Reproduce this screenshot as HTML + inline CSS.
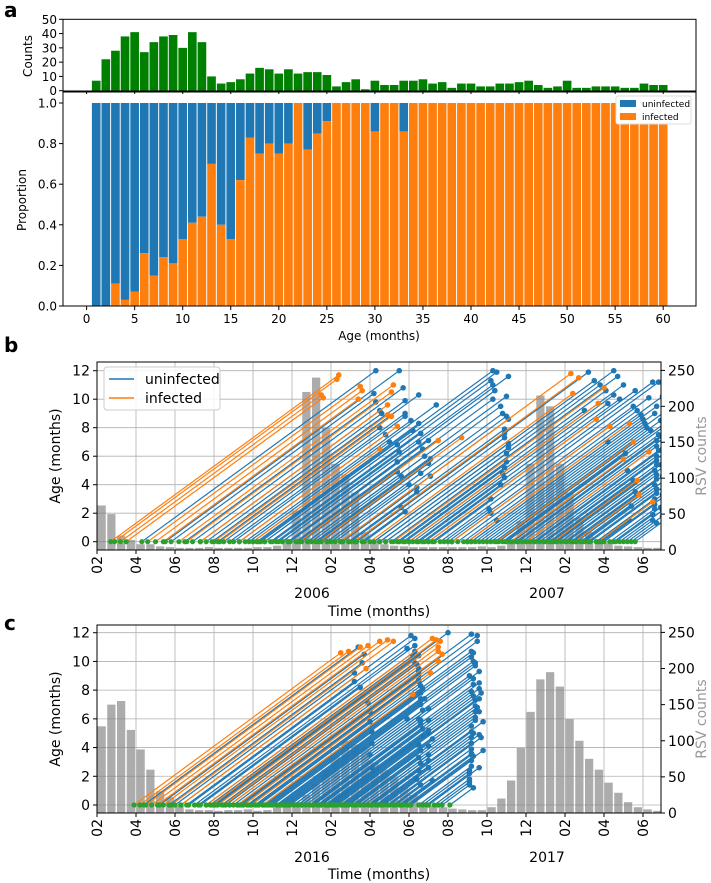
<!DOCTYPE html>
<html><head><meta charset="utf-8"><style>
html,body{margin:0;padding:0;background:#fff;}
svg{display:block;font-family:"DejaVu Sans","Liberation Sans",sans-serif;}
</style></head><body>
<svg id="fig" width="711" height="883" viewBox="0 0 711 883" xmlns="http://www.w3.org/2000/svg"></svg>
<script>
// ---------- Panel a data ----------
const ageMonths = [1,2,3,4,5,6,7,8,9,10,11,12,13,14,15,16,17,18,19,20,21,22,23,24,25,26,27,28,29,30,31,32,33,34,35,36,37,38,39,40,41,42,43,44,45,46,47,48,49,50,51,52,53,54,55,56,57,58,59,60];
const ageCounts = [7,22,28,38,41,27,34,38,39,30,41,34,10,5,6,8,12,16,15,12,15,12,13,13,11,3,6,8,1,7,4,4,7,7,8,5,6,2,5,5,3,3,5,5,6,7,4,2,3,7,2,2,3,3,3,2,2,5,4,4];
const infectedProp = [0,0,0.11,0.03,0.07,0.26,0.15,0.24,0.21,0.33,0.41,0.44,0.70,0.40,0.33,0.62,0.83,0.75,0.80,0.75,0.80,1,0.77,0.85,0.91,1,1,1,1,0.86,1,1,0.86,1,1,1,1,1,1,1,1,1,1,1,1,1,1,1,1,1,1,1,1,1,1,1,1,1,1,1];
const ageTicks = [0,5,10,15,20,25,30,35,40,45,50,55,60];
const countTicks = [0,10,20,30,40,50];
const propTicks = [0,0.2,0.4,0.6,0.8,1.0];
// ---------- Panel b/c shared ----------
const monthTickPos = [0,2,4,6,8,10,12,14,16,18,20,22,24,26,28];
const monthTickLabels = ["02","04","06","08","10","12","02","04","06","08","10","12","02","04","06"];
const ageYTicks = [0,2,4,6,8,10,12];
const rsvTicks = [0,50,100,150,200,250];
// RSV counts per half-month starting at Feb
const rsvB = [62,50,20,14,8,8,5,4,3,3,3,4,3,3,3,3,4,4,6,15,55,220,240,170,120,105,80,25,12,8,6,5,4,4,4,4,4,4,4,5,4,6,10,40,120,215,200,120,80,45,25,15,10,6,5,4,3,3];
const rsvC = [120,150,155,115,88,60,30,22,10,5,4,4,3,4,4,5,3,4,8,10,15,25,40,60,80,100,95,90,70,60,50,35,25,15,10,8,6,5,4,4,8,20,45,90,140,185,195,175,130,100,75,60,42,28,15,8,5,3];
// Panel b subjects: birth time (months since Feb 2005), final age, infected flag
const birthBMain = [2.3,3.5,3.8,4.5,5.3,5.6,6.5,7.3,8,8.6,9.2,9.8,10.5,11,11.3,12,12.6,13.2,13.7,7.8,6.8,8.4,9.5,10.2,11.5,12.5,
8.3,8.6,8.9,9.3,9.8,10.3,11.2,11.8,12.5,13,13.6,14.2,14.8,15.4,16,16.7,17.2,17.8,18.2,19,
13.3,14.2,14.8,15.5,16.2,16.8,17.3,17.6,18,18.5,19,19.4,19.8,20.2,20.6,21,21.3,21.6,22,22.4,22.7,23,23.3,23.6,24,24.3,24.6,25,25.3,25.6,26,26.3,26.6,27,27.4,18.8,19.6,20.4,21.5,22.5,23.5,24.4,25.2,25.9,26.8,27.6,15.8,16.5,
0.7,0.9,1.2,1.5,2.6,3.0,3.4,4.2,4.6,5.3,6,6.3,7.3,8,10.4,11.4,12.5,13.2,14,15.2,16,17,18.2,19,20.5,21.2,22,23.4,24.5,25.7];
const ageEndBMain = [12,12,10.4,9.8,9.2,9.0,8.0,7.5,7,6.8,6.3,5.6,4.9,4.6,5.8,4.0,3.8,2.4,2.1,9.6,9.0,7.8,7.0,6.5,5.5,4.6,
12,11.9,11.3,11.0,10.6,10.0,9.5,9.0,8.6,7.9,7.3,6.9,6.2,5.6,4.8,4.0,3.0,2.3,2.0,1.5,
11.9,11.3,11.0,10.6,10.3,10.0,11.2,11.2,9.5,9.2,8.9,8.6,8.3,8.0,7.8,8.3,7.5,7.1,6.7,6.4,6.0,5.7,5.4,5.0,4.7,4.4,4.0,3.7,3.4,3.0,2.6,2.3,1.9,1.5,1.3,10.2,9.0,8.5,7.4,6.5,5.4,4.6,3.9,3.2,2.2,1.5,9.2,9.7,
11.7,11.4,10.3,10.1,10.9,10.6,10.0,11.0,10.5,9.6,8.9,8.8,8.1,6.5,7.1,7.3,11.8,11.5,10.4,10.8,9.7,8.6,8.1,8.3,7.0,5.8,6.3,4.3,3.3,2.8];
const infBMain = [0,0,0,0,0,0,0,0,0,0,0,0,0,0,0,0,0,0,0,0,0,0,0,0,0,0,
0,0,0,0,0,0,0,0,0,0,0,0,0,0,0,0,0,0,0,0,
0,0,0,0,0,0,0,0,0,0,0,0,0,0,0,0,0,0,0,0,0,0,0,0,0,0,0,0,0,0,0,0,0,0,0,0,0,0,0,0,0,0,0,0,0,0,0,0,
1,1,1,1,1,1,1,1,1,1,1,1,1,1,1,1,1,1,1,1,1,1,1,1,1,1,1,1,1,1];
const birthBExtra = [4.9,5.9,6.2,7,7.6,8.2,9,9.9,10.8,11.8,12.9,14.5,15.1,16,17,18.2,19.2,20,20.8,21.8,22.9,23.8,24.8,25.7,26.5,27.2,19.2,20.9,22.2,23.2,24.1,24.9,25.8,9.5,10.8,12.2,13.3,14.5,15.7,16.4];
const ageEndBExtra = [10.8,9.9,10.3,8.8,8.5,8.3,7.6,7.1,6.0,4.8,3.5,12,11.6,11,10.6,10.1,9.5,9.2,8.3,7.8,6.8,5.3,4.4,3.3,2.4,1.8,7.0,6.2,5.0,4.3,3.5,2.5,1.5,11.6,10.2,8.8,7.6,6.6,5.2,4.5];
const infBExtra = [0,0,0,0,0,0,0,0,0,0,0,0,0,0,0,0,0,0,0,0,0,0,0,0,0,0,0,0,0,0,0,0,0,0,0,0,0,0,0,0];
const birthB = birthBExtra.concat(birthBMain);
const ageEndB = ageEndBExtra.concat(ageEndBMain);
const infB = infBExtra.concat(infBMain);
// Panel c subjects: birth time (months since Feb 2015)
const birthCMain = [2.4,3.2,3.7,4.0,4.6,5.3,6.0,6.8,7.5,8.2,9,9.8,10.5,11.5,
4.3,4.7,5.2,5.6,6.1,6.6,7.0,7.4,7.9,8.3,8.8,9.2,9.6,10.1,10.5,11,11.4,11.9,12.3,12.8,13.2,13.7,14.1,14.6,15.2,15.5,9.9,10.7,11.8,12.6,13.5,14.4,
7.3,7.7,8.1,8.5,8.9,9.3,9.7,10.1,10.5,10.9,11.3,11.7,12.1,12.5,12.9,13.3,13.7,14.1,14.5,14.9,15.3,15.7,16.1,16.5,16.9,17.3,17.7,18.1,11.5,12.2,13.1,14,15,16,17,14.3,15.6,
1.9,2.2,2.5,2.8,3.1,3.4,3.8,4.3,5.6,5.9,6.2,6.5,6.8,7.2,7.5,7.9,8.5];
const ageEndCMain = [11.0,10.5,9.9,9.2,8.6,8.2,7.6,7.1,6.5,5.8,5.1,4.3,3.5,2.6,
11.8,11.6,11.1,10.7,10.4,9.8,9.5,9.1,8.6,8.3,7.8,7.4,7.0,6.6,6.0,5.6,5.3,4.8,4.2,3.8,3.3,2.9,2.4,1.8,1.4,1.7,6.0,5.9,5.2,4.6,3.5,2.6,
11.9,11.8,11.4,10.7,10.3,10.0,9.7,9.0,8.8,8.4,7.9,7.6,7.3,6.9,6.5,6.1,5.5,5.1,4.7,4.3,3.9,3.5,3.1,2.7,2.2,1.8,1.4,1.2,8.1,7.4,6.5,5.8,4.7,3.8,2.6,5.0,3.6,
10.6,10.7,11.0,11.1,11.4,11.5,11.4,9.5,11.6,11.5,11.4,11.0,10.7,10.5,10.0,9.2,7.7];
const infCMain = [0,0,0,0,0,0,0,0,0,0,0,0,0,0,
0,0,0,0,0,0,0,0,0,0,0,0,0,0,0,0,0,0,0,0,0,0,0,0,0,0,0,0,0,0,0,0,
0,0,0,0,0,0,0,0,0,0,0,0,0,0,0,0,0,0,0,0,0,0,0,0,0,0,0,0,0,0,0,0,0,0,0,0,0,
1,1,1,1,1,1,1,1,1,1,1,1,1,1,1,1,1];
const birthCExtra = [5.0,5.8,6.4,7.2,7.8,8.6,9.4,10.3,11.1,12.0,12.9,13.9,6.0,8.7,9.5,10.3,11.1,11.9,12.7,13.5,14.7,15.9,16.7,17.5];
const ageEndCExtra = [10.9,10.4,9.9,9.3,8.7,8.1,7.4,6.7,5.9,5.0,4.1,3.1,12.0,10.6,9.9,9.3,8.5,7.8,6.8,5.9,4.9,3.4,2.4,1.6];
const infCExtra = [0,0,0,0,0,0,0,0,0,0,0,0,0,0,0,0,0,0,0,0,0,0,0,0];
const birthC = birthCExtra.concat(birthCMain);
const ageEndC = ageEndCExtra.concat(ageEndCMain);
const infC = infCExtra.concat(infCMain);

const NS="http://www.w3.org/2000/svg";
const svg=document.getElementById('fig');
function el(tag,attrs,parent,text){const e=document.createElementNS(NS,tag);for(const k in attrs)e.setAttribute(k,attrs[k]);if(text!==undefined)e.textContent=text;(parent||svg).appendChild(e);return e;}
const BLUE="#1f77b4",ORANGE="#ff7f0e",GREEN="#2ca02c";

[["a",4,17],["b",4,352],["c",4,630]].forEach(p=>{
  const t=el('text',{x:p[1],y:p[2],'font-size':20,'font-weight':'bold',fill:'#000'},svg,p[0]);
  
  
});

// ---------- Panel a ----------
const AL=63,AR=696;
const xA=m=>86.6+m*9.61;
const yCnt=c=>90.7-c*(71.4/50);
const yP=p=>306-p*203;
const gA=el('g',{});


ageMonths.forEach((m,i)=>{
  const r=el('rect',{x:xA(m-0.45),y:yCnt(ageCounts[i]),width:9.61*0.9,height:yCnt(0)-yCnt(ageCounts[i]),fill:'#008000'},gA);
  
  
});
ageMonths.forEach((m,i)=>{
  const p=infectedProp[i];
  const b=el('rect',{x:xA(m-0.45),y:yP(1),width:9.61*0.9,height:yP(p)-yP(1),fill:BLUE},gA);
  
  
  if(p>0){const o=el('rect',{x:xA(m-0.45),y:yP(p),width:9.61*0.9,height:yP(0)-yP(p),fill:ORANGE},gA);
  
  }
});
el('rect',{x:AL,y:19.3,width:AR-AL,height:91-19.3,fill:'none',stroke:'#000','stroke-width':1},gA);
el('rect',{x:AL,y:92,width:AR-AL,height:306-92,fill:'none',stroke:'#000','stroke-width':1},gA);
countTicks.forEach(c=>{
  el('line',{x1:AL-4,x2:AL,y1:yCnt(c),y2:yCnt(c),stroke:'#000'},gA);
  el('text',{x:AL-6,y:yCnt(c)+4.5,'text-anchor':'end','font-size':12},gA,String(c));
});
propTicks.forEach(p=>{
  el('line',{x1:AL-4,x2:AL,y1:yP(p),y2:yP(p),stroke:'#000'},gA);
  el('text',{x:AL-6,y:yP(p)+4.5,'text-anchor':'end','font-size':12},gA,p.toFixed(1));
});
ageTicks.forEach(m=>{
  el('line',{x1:xA(m),x2:xA(m),y1:306,y2:310,stroke:'#000'},gA);
  el('line',{x1:xA(m),x2:xA(m),y1:91,y2:94,stroke:'#000'},gA);
  el('text',{x:xA(m),y:323,'text-anchor':'middle','font-size':12},gA,String(m));
});
const cl=el('text',{x:0,y:0,transform:'translate(32,56) rotate(-90)','text-anchor':'middle','font-size':12},gA,'Counts');

const pl=el('text',{x:0,y:0,transform:'translate(26,200) rotate(-90)','text-anchor':'middle','font-size':12},gA,'Proportion');

const xl=el('text',{x:379,y:340,'text-anchor':'middle','font-size':12},gA,'Age (months)');

const lgA=el('g',{},gA);


el('rect',{x:616,y:96,width:75,height:28,fill:'#fff',stroke:'#ddd',rx:2},lgA);
el('rect',{x:620,y:100,width:16,height:7,fill:BLUE},lgA);
el('text',{x:642,y:107,'font-size':9},lgA,'uninfected');
el('rect',{x:620,y:113,width:16,height:7,fill:ORANGE},lgA);
el('text',{x:642,y:120,'font-size':9},lgA,'infected');

// ---------- Panels b and c ----------
function panel(name,top,bottom,y12,y0,births,ages,inf,rsv,yearLabels,ylabelY,xTitleY){
  const L=97,R=661;
  const xT=t=>97+t*19.5;
  const ppm=(y0-y12)/12;
  const yA=a=>y0-a*ppm;
  const yR=r=>bottom-r*((bottom-y12+0.3)/250);
  const g=el('g',{});
  
  
  const cid='clip-'+name;
  const defs=el('defs',{},g);
  const cp=el('clipPath',{id:cid},defs);
  el('rect',{x:L,y:top,width:R-L,height:bottom-top},cp);
  monthTickPos.forEach(t=>el('line',{x1:xT(t),x2:xT(t),y1:top,y2:bottom,stroke:'#b0b0b0','stroke-width':0.8},g));
  ageYTicks.forEach(a=>el('line',{x1:L,x2:R,y1:yA(a),y2:yA(a),stroke:'#b0b0b0','stroke-width':0.8},g));
  const inner=el('g',{'clip-path':'url(#'+cid+')'},g);
  rsv.forEach((v,i)=>{
    const b=el('rect',{x:xT(i*0.5)+0.5,y:yR(v),width:19.5*0.5-1.5,height:bottom-yR(v),fill:'#808080','fill-opacity':0.65},inner);
    
    
  });
  for(let pass=0;pass<2;pass++){
    births.forEach((t0,i)=>{
      if(inf[i]!==pass)return;
      const c=inf[i]?ORANGE:BLUE;
      const a=ages[i];
      const ln=el('line',{x1:xT(t0),y1:yA(0),x2:xT(t0+a),y2:yA(a),stroke:c,'stroke-width':1.2},inner);
      
      
      const d=el('circle',{cx:xT(t0+a),cy:yA(a),r:2.8,fill:c},inner);
      
      
    });
  }
  births.forEach(t0=>{
    const d=el('circle',{cx:xT(t0),cy:yA(0),r:2.6,fill:GREEN},inner);
    
    
  });
  el('rect',{x:L,y:top,width:R-L,height:bottom-top,fill:'none',stroke:'#000','stroke-width':1},g);
  ageYTicks.forEach(a=>{
    el('line',{x1:L-4,x2:L,y1:yA(a),y2:yA(a),stroke:'#000'},g);
    el('text',{x:L-7,y:yA(a)+5,'text-anchor':'end','font-size':14},g,String(a));
  });
  rsvTicks.forEach(r=>{
    el('line',{x1:R,x2:R+4,y1:yR(r),y2:yR(r),stroke:'#000'},g);
    el('text',{x:R+7,y:yR(r)+5,'font-size':14},g,String(r));
  });
  monthTickPos.forEach((t,i)=>{
    el('line',{x1:xT(t),x2:xT(t),y1:bottom,y2:bottom+4,stroke:'#000'},g);
    el('text',{x:0,y:0,transform:`translate(${xT(t)+5},${bottom+6}) rotate(-90)`,'text-anchor':'end','font-size':14},g,monthTickLabels[i]);
  });
  yearLabels.forEach(y=>el('text',{x:y[1],y:y[2],'text-anchor':'middle','font-size':14},g,y[0]));
  const at=el('text',{x:0,y:0,transform:`translate(60,${ylabelY}) rotate(-90)`,'text-anchor':'middle','font-size':14},g,'Age (months)');
  
  const rt=el('text',{x:0,y:0,transform:`translate(706,${ylabelY}) rotate(-90)`,'text-anchor':'middle','font-size':14,fill:'#999'},g,'RSV counts');
  
  const tt=el('text',{x:379,y:xTitleY,'text-anchor':'middle','font-size':14},g,'Time (months)');
  
  return g;
}
const gB=panel('panel-b',362,550,370.7,541.7,birthB,ageEndB,infB,rsvB,[["2006",312,598],["2007",547,598]],456,616);
const lgB=el('g',{},gB);


el('rect',{x:104,y:367,width:116,height:43,fill:'#fff','fill-opacity':0.85,stroke:'#ccc',rx:3},lgB);
el('line',{x1:109,x2:134,y1:379,y2:379,stroke:BLUE,'stroke-width':1.5},lgB);
el('text',{x:145,y:384,'font-size':14},lgB,'uninfected');
el('line',{x1:109,x2:134,y1:398,y2:398,stroke:ORANGE,'stroke-width':1.5},lgB);
el('text',{x:145,y:403,'font-size':14},lgB,'infected');
panel('panel-c',625,813,632.7,805,birthC,ageEndC,infC,rsvC,[["2016",312,862],["2017",547,862]],719,879);
</script>
</body></html>
